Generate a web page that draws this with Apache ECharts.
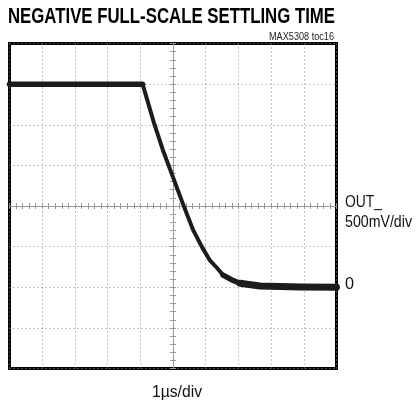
<!DOCTYPE html>
<html><head><meta charset="utf-8">
<script src="https://cdn.jsdelivr.net/npm/echarts@6/dist/echarts.min.js"></script>
<style>html,body{margin:0;padding:0;background:#fff}#c{width:417px;height:402px}</style>
</head><body><div id="c"></div>
<script>
// time in µs (1 µs/div), output in volts (500 mV/div)
const timeUs = [0, 1, 2, 3, 4.07, 4.42, 4.69, 5.31, 5.61, 5.88, 6.13, 6.34, 6.53, 6.80, 7.05, 7.66, 8.88, 10];
const outV   = [2.50, 2.50, 2.50, 2.50, 2.50, 2.02, 1.69, 1.02, 0.71, 0.50, 0.33, 0.24, 0.15, 0.09, 0.05, 0.016, 0.004, 0.0];
const xTickLabel = '1µs/div';
const yTickLabels = ['OUT_', '500mV/div', '0'];
const titleText = 'NEGATIVE FULL-SCALE SETTLING TIME';
const noteText = 'MAX5308 toc16';

const trace = timeUs.map((t, i) => [t, outV[i]]);
const highPart = trace.filter(p => p[0] <= 4.07);
const midPart = trace.filter(p => p[0] >= 6.53);
const lowPart = trace.filter(p => p[0] >= 7.05);

const FONT = '"Liberation Sans", Arial, sans-serif';
const mctx = document.createElement('canvas').getContext('2d');
function fit(text, font, width) { mctx.font = font; return width / mctx.measureText(text).width; }
function label(text, font, x, y, width, color) {
  const s = fit(text, font, width);
  return {type: 'text', x: x, y: y, scaleX: s, style: {text: text, font: font, fill: color || '#111', textVerticalAlign: 'top'}};
}

const chart = echarts.init(document.getElementById('c'), null, {renderer: 'canvas'});
const dotted = {show: true, lineStyle: {color: '#8a8a8a', width: 1, type: [1, 3]}};
const tickAxisX = (inside) => ({
  type: 'value', min: 0, max: 10, interval: 0.2,
  axisLine: {show: true, onZero: true, onZeroAxisIndex: 1, lineStyle: {color: '#999', width: 1}},
  axisTick: {show: true, inside: inside, length: 3, lineStyle: {color: '#999'}},
  axisLabel: {show: false}, splitLine: {show: false}
});
const tickAxisY = (inside) => ({
  type: 'value', min: -1, max: 3, interval: 0.1,
  axisLine: {show: true, onZero: true, onZeroAxisIndex: 1, lineStyle: {color: '#999', width: 1}},
  axisTick: {show: true, inside: inside, length: 3, lineStyle: {color: '#999'}},
  axisLabel: {show: false}, splitLine: {show: false}
});
const traceLine = (data, width) => ({
  type: 'line', data: data, xAxisIndex: 0, yAxisIndex: 0, showSymbol: false, smooth: false,
  lineStyle: {color: '#1c1c1c', width: width, cap: 'round', join: 'round'}, z: 5
});
chart.setOption({
  animation: false,
  grid: {left: 9.5, top: 43.5, width: 327, height: 325, show: true, borderColor: '#000', borderWidth: 3, backgroundColor: '#fff'},
  xAxis: [
    {type: 'value', min: 0, max: 10, interval: 1, axisLine: {show: false}, axisTick: {show: false}, axisLabel: {show: false}, splitLine: dotted},
    {type: 'value', min: -5, max: 5, show: false},
    tickAxisX(true), tickAxisX(false)
  ],
  yAxis: [
    {type: 'value', min: -1, max: 3, interval: 0.5, axisLine: {show: false}, axisTick: {show: false}, axisLabel: {show: false}, splitLine: dotted},
    {type: 'value', min: -2, max: 2, show: false},
    tickAxisY(true), tickAxisY(false)
  ],
  series: [
    traceLine(trace, 4),
    traceLine(highPart, 5.5),
    traceLine(midPart, 5.5),
    traceLine(lowPart, 7)
  ],
  graphic: [
    label(titleText, 'bold 22px ' + FONT, 8, 6, 327, '#000'),
    label(noteText, '11px ' + FONT, 269, 31, 65, '#222'),
    label(yTickLabels[0], '17px ' + FONT, 345, 194, 37),
    label(yTickLabels[1], '17px ' + FONT, 345, 214, 67),
    label(yTickLabels[2], '17px ' + FONT, 345, 276, 9),
    label(xTickLabel, '17px ' + FONT, 152, 384, 50)
  ]
});
</script></body></html>
